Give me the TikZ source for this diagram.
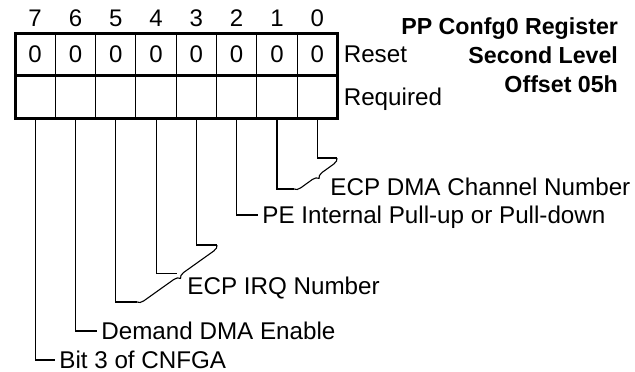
\documentclass[tikz,border=0pt]{standalone}
\usepackage{fontspec}
\setmainfont{Liberation Sans}
\usetikzlibrary{positioning, calc, decorations.pathreplacing}

\begin{document}
\begin{tikzpicture}[
    x=0.5pt, y=-0.5pt,
    cell/.style={rectangle, draw, line width=0.5pt, minimum width=20.15pt, minimum height=21.25pt, inner sep=0pt, outer sep=0pt, font=\fontsize{12}{14}\selectfont},
    bitnum/.style={inner sep=0pt, text height=8.6pt, text depth=0pt, font=\fontsize{12}{14}\selectfont},
    frame/.style={line width=1.5pt},
    lead/.style={line width=0.55pt},
    brace/.style={line width=0.55pt, decorate, decoration={brace, amplitude=3pt}},
    lbl/.style={anchor=west, inner xsep=2pt, inner ysep=0pt, text height=8.6pt, text depth=0pt, font=\fontsize{12.1}{14}\selectfont}
]
\useasboundingbox (0,0) rectangle (635,371);

% register cells
\node[cell] (r7) at (35.15,54.25) {0};
\node[cell, right=0pt of r7] (r6) {0};
\node[cell, right=0pt of r6] (r5) {0};
\node[cell, right=0pt of r5] (r4) {0};
\node[cell, right=0pt of r4] (r3) {0};
\node[cell, right=0pt of r3] (r2) {0};
\node[cell, right=0pt of r2] (r1) {0};
\node[cell, right=0pt of r1] (r0) {0};
\node[cell, below=0pt of r7] (q7) {};
\node[cell, below=0pt of r6] (q6) {};
\node[cell, below=0pt of r5] (q5) {};
\node[cell, below=0pt of r4] (q4) {};
\node[cell, below=0pt of r3] (q3) {};
\node[cell, below=0pt of r2] (q2) {};
\node[cell, below=0pt of r1] (q1) {};
\node[cell, below=0pt of r0] (q0) {};
\node[bitnum, above=3pt of r7] (n7) {7};
\node[bitnum, above=3pt of r6] (n6) {6};
\node[bitnum, above=3pt of r5] (n5) {5};
\node[bitnum, above=3pt of r4] (n4) {4};
\node[bitnum, above=3pt of r3] (n3) {3};
\node[bitnum, above=3pt of r2] (n2) {2};
\node[bitnum, above=3pt of r1] (n1) {1};
\node[bitnum, above=3pt of r0] (n0) {0};
\draw[frame] (r7.north west) rectangle (q0.south east);
\draw[frame] (q7.north west) -- (q0.north east);

\node[lbl, right=1pt of r0] (reset) {Reset};
\node[lbl, right=1pt of q0] (req) {Required};
\node[anchor=north east, align=right, font=\fontsize{11.6}{14.4}\selectfont\bfseries] (title) at (625,11) {PP Confg0 Register\\Second Level\\Offset 05h};

% field labels
\node[lbl] (dmach) at (326,187) {ECP DMA Channel Number};
\node[lbl] (pullup) at (258,215) {PE Internal Pull-up or Pull-down};
\node[lbl] (irq) at (183,286) {ECP IRQ Number};
\node[lbl] (dmaen) at (97,331) {Demand DMA Enable};
\node[lbl] (cnfga) at (55,360) {Bit 3 of CNFGA};

\coordinate (d0) at (337,158);
\coordinate (d1) at (294,189);
\coordinate (d3) at (217,245);
\coordinate (d5) at (137,302);
\coordinate (d4) at ($(d3)!0.5!(d5)$);

\draw[lead] (q0.south) |- (d0);
\draw[lead] (q1.south) |- (d1);
\draw[brace] (d0) -- (d1);
\draw[lead] (q2.south) |- (pullup.west);
\draw[lead] (q3.south) |- (d3);
\draw[lead] (q4.south) |- (d4);
\draw[lead] (q5.south) |- (d5);
\draw[brace] (d3) -- (d5);
\draw[lead] (q6.south) |- (dmaen.west);
\draw[lead] (q7.south) |- (cnfga.west);
\end{tikzpicture}
\end{document}
